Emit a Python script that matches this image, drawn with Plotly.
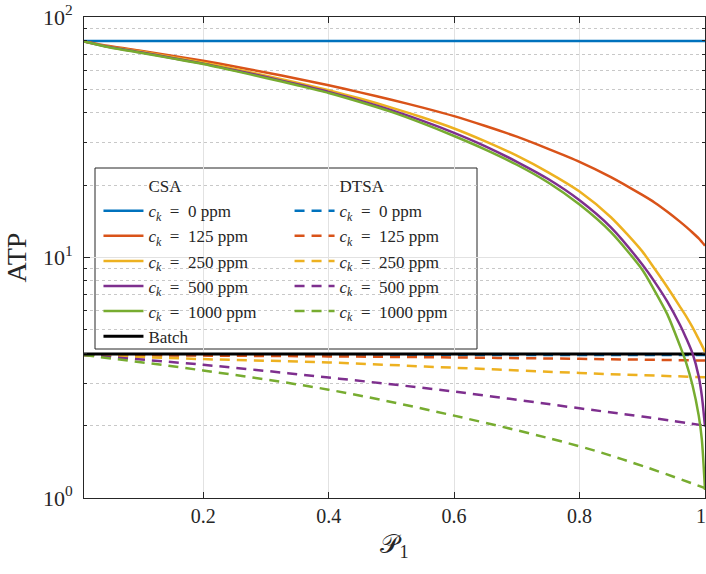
import plotly.graph_objects as go

# Recovery fraction P1 sampled for the CSA curves
p1_csa = [0.01, 0.05, 0.1, 0.15, 0.2, 0.25, 0.3, 0.35, 0.4, 0.45, 0.5, 0.55, 0.6, 0.65,
          0.7, 0.75, 0.8, 0.85, 0.9, 0.92, 0.94, 0.96, 0.97, 0.98, 0.99, 0.995, 1.0]
csa_0 = [79.4] * len(p1_csa)
csa_125 = [79.2, 75.8, 72.4, 69.1, 65.8, 62.3, 58.8, 55.4, 52.0, 48.6, 45.3, 42.0, 38.7, 35.2,
           31.8, 28.3, 25.0, 21.6, 18.2, 16.9, 15.5, 14.1, 13.4, 12.7, 12.0, 11.6, 11.2]
csa_250 = [79.2, 75.3, 71.8, 68.2, 64.6, 60.8, 57.0, 53.3, 49.6, 45.8, 42.0, 38.2, 34.4, 30.4,
           26.5, 22.6, 18.8, 14.7, 10.6, 8.95, 7.52, 6.25, 5.69, 5.13, 4.57, 4.31, 4.05]
csa_500 = [79.2, 75.0, 71.3, 67.6, 64.0, 60.1, 56.3, 52.5, 48.8, 44.9, 41.0, 37.0, 33.0, 29.0,
           25.0, 21.2, 17.3, 13.35, 9.35, 7.9, 6.55, 5.25, 4.62, 4.0, 3.2, 2.65, 1.98]
csa_1000 = [79.2, 74.9, 71.0, 67.3, 63.7, 59.7, 55.8, 52.0, 48.3, 44.3, 40.3, 36.1, 32.0, 28.1,
            24.3, 20.5, 16.6, 12.75, 8.9, 7.25, 5.8, 4.3, 3.65, 2.95, 2.2, 1.75, 1.08]

# DTSA curves
p1_dtsa = [0.01, 0.2, 0.4, 0.6, 0.8, 0.9, 1.0]
dtsa_0 = [3.93] * len(p1_dtsa)
dtsa_125 = [3.93, 3.91, 3.88, 3.84, 3.79, 3.76, 3.73]
dtsa_250 = [3.93, 3.78, 3.66, 3.48, 3.31, 3.24, 3.18]
dtsa_500 = [3.93, 3.58, 3.17, 2.77, 2.36, 2.18, 2.0]
dtsa_1000 = [3.93, 3.39, 2.82, 2.2, 1.64, 1.36, 1.1]

# Batch reference
p1_batch = [0.01, 1.0]
batch = [3.97, 3.97]

ck_labels = ["0", "125", "250", "500", "1000"]
colors = ["#0072BD", "#D95319", "#EDB120", "#7E2F8E", "#77AC30"]

SERIF = "Liberation Serif, DejaVu Serif, serif"
INK = "#262626"

fig = go.Figure()


def ck_name(v):
    return f"<i>c</i><sub><i>k</i></sub>\u2002=\u2002{v} ppm"


# legend headers
fig.add_trace(go.Scatter(x=[None], y=[None], mode="lines", name="CSA",
                         line=dict(color="rgba(0,0,0,0)", width=2.5), legend="legend"))
fig.add_trace(go.Scatter(x=[None], y=[None], mode="lines", name="DTSA",
                         line=dict(color="rgba(0,0,0,0)", width=2.5), legend="legend2"))

for ys, lab, c in zip([dtsa_0, dtsa_125, dtsa_250, dtsa_500, dtsa_1000], ck_labels, colors):
    fig.add_trace(go.Scatter(x=p1_dtsa, y=ys, mode="lines", name=ck_name(lab),
                             line=dict(color=c, width=2.5, dash="10px,7px", shape="spline", smoothing=1.0),
                             legend="legend2"))

fig.add_trace(go.Scatter(x=p1_batch, y=batch, mode="lines", name="Batch",
                         line=dict(color="black", width=3), legend="legend", legendrank=2000))

for ys, lab, c in zip([csa_0, csa_125, csa_250, csa_500, csa_1000], ck_labels, colors):
    fig.add_trace(go.Scatter(x=p1_csa, y=ys, mode="lines", name=ck_name(lab),
                             line=dict(color=c, width=2.5, shape="spline", smoothing=0.7),
                             legend="legend"))

legend_common = dict(
    bgcolor="rgba(0,0,0,0)", borderwidth=0,
    font=dict(family=SERIF, size=17, color=INK),
    tracegroupgap=0, itemwidth=40, yanchor="top", xanchor="left",
    traceorder="normal",
)

fig.update_layout(
    width=706, height=574,
    margin=dict(l=84, r=1, t=17, b=76),
    paper_bgcolor="white", plot_bgcolor="white",
    font=dict(family=SERIF, size=19, color=INK),
    legend=dict(x=0.0233, y=0.686, **legend_common),
    legend2=dict(x=0.331, y=0.686, **legend_common),
    shapes=[dict(type="rect", xref="paper", yref="paper",
                 x0=(95 - 84) / 621, x1=(477 - 84) / 621,
                 y0=(498 - 349) / 481, y1=(498 - 168) / 481,
                 line=dict(color=INK, width=1), fillcolor="white", layer="below")],
)

fig.update_xaxes(
    range=[0.01, 1.0], tickvals=[0.2, 0.4, 0.6, 0.8, 1.0],
    ticktext=["0.2", "0.4", "0.6", "0.8", "1\u2009\u2009"],
    showgrid=True, gridcolor="#e2e2e2", gridwidth=1,
    ticks="inside", ticklen=6, tickcolor=INK,
    showline=True, linecolor=INK, linewidth=1, mirror="ticks",
    zeroline=False, ticklabeloverflow="allow", automargin=False,
    tickfont=dict(family=SERIF, size=20),
    title=dict(text="𝒫<sub>1</sub>", font=dict(family=SERIF, size=26), standoff=8),
)

fig.update_yaxes(
    type="log", range=[0, 2],
    tickvals=[1, 10, 100], ticktext=["10<sup>0</sup>", "10<sup>1</sup>", "10<sup>2</sup>"],
    showgrid=True, gridcolor="#e2e2e2", gridwidth=1,
    ticks="inside", ticklen=6, tickcolor=INK,
    showline=True, linecolor=INK, linewidth=1, mirror="ticks",
    minor=dict(tickvals=[2, 3, 4, 5, 6, 7, 8, 9, 20, 30, 40, 50, 60, 70, 80, 90],
               ticks="inside", ticklen=3, tickcolor=INK,
               showgrid=True, gridcolor="#c8c8c8", griddash="dot", gridwidth=1),
    tickfont=dict(family=SERIF, size=22), ticklabelstandoff=6, automargin=False,
    title=dict(text="ATP", font=dict(family=SERIF, size=28), standoff=8),
)

fig.write_html("out.html")
